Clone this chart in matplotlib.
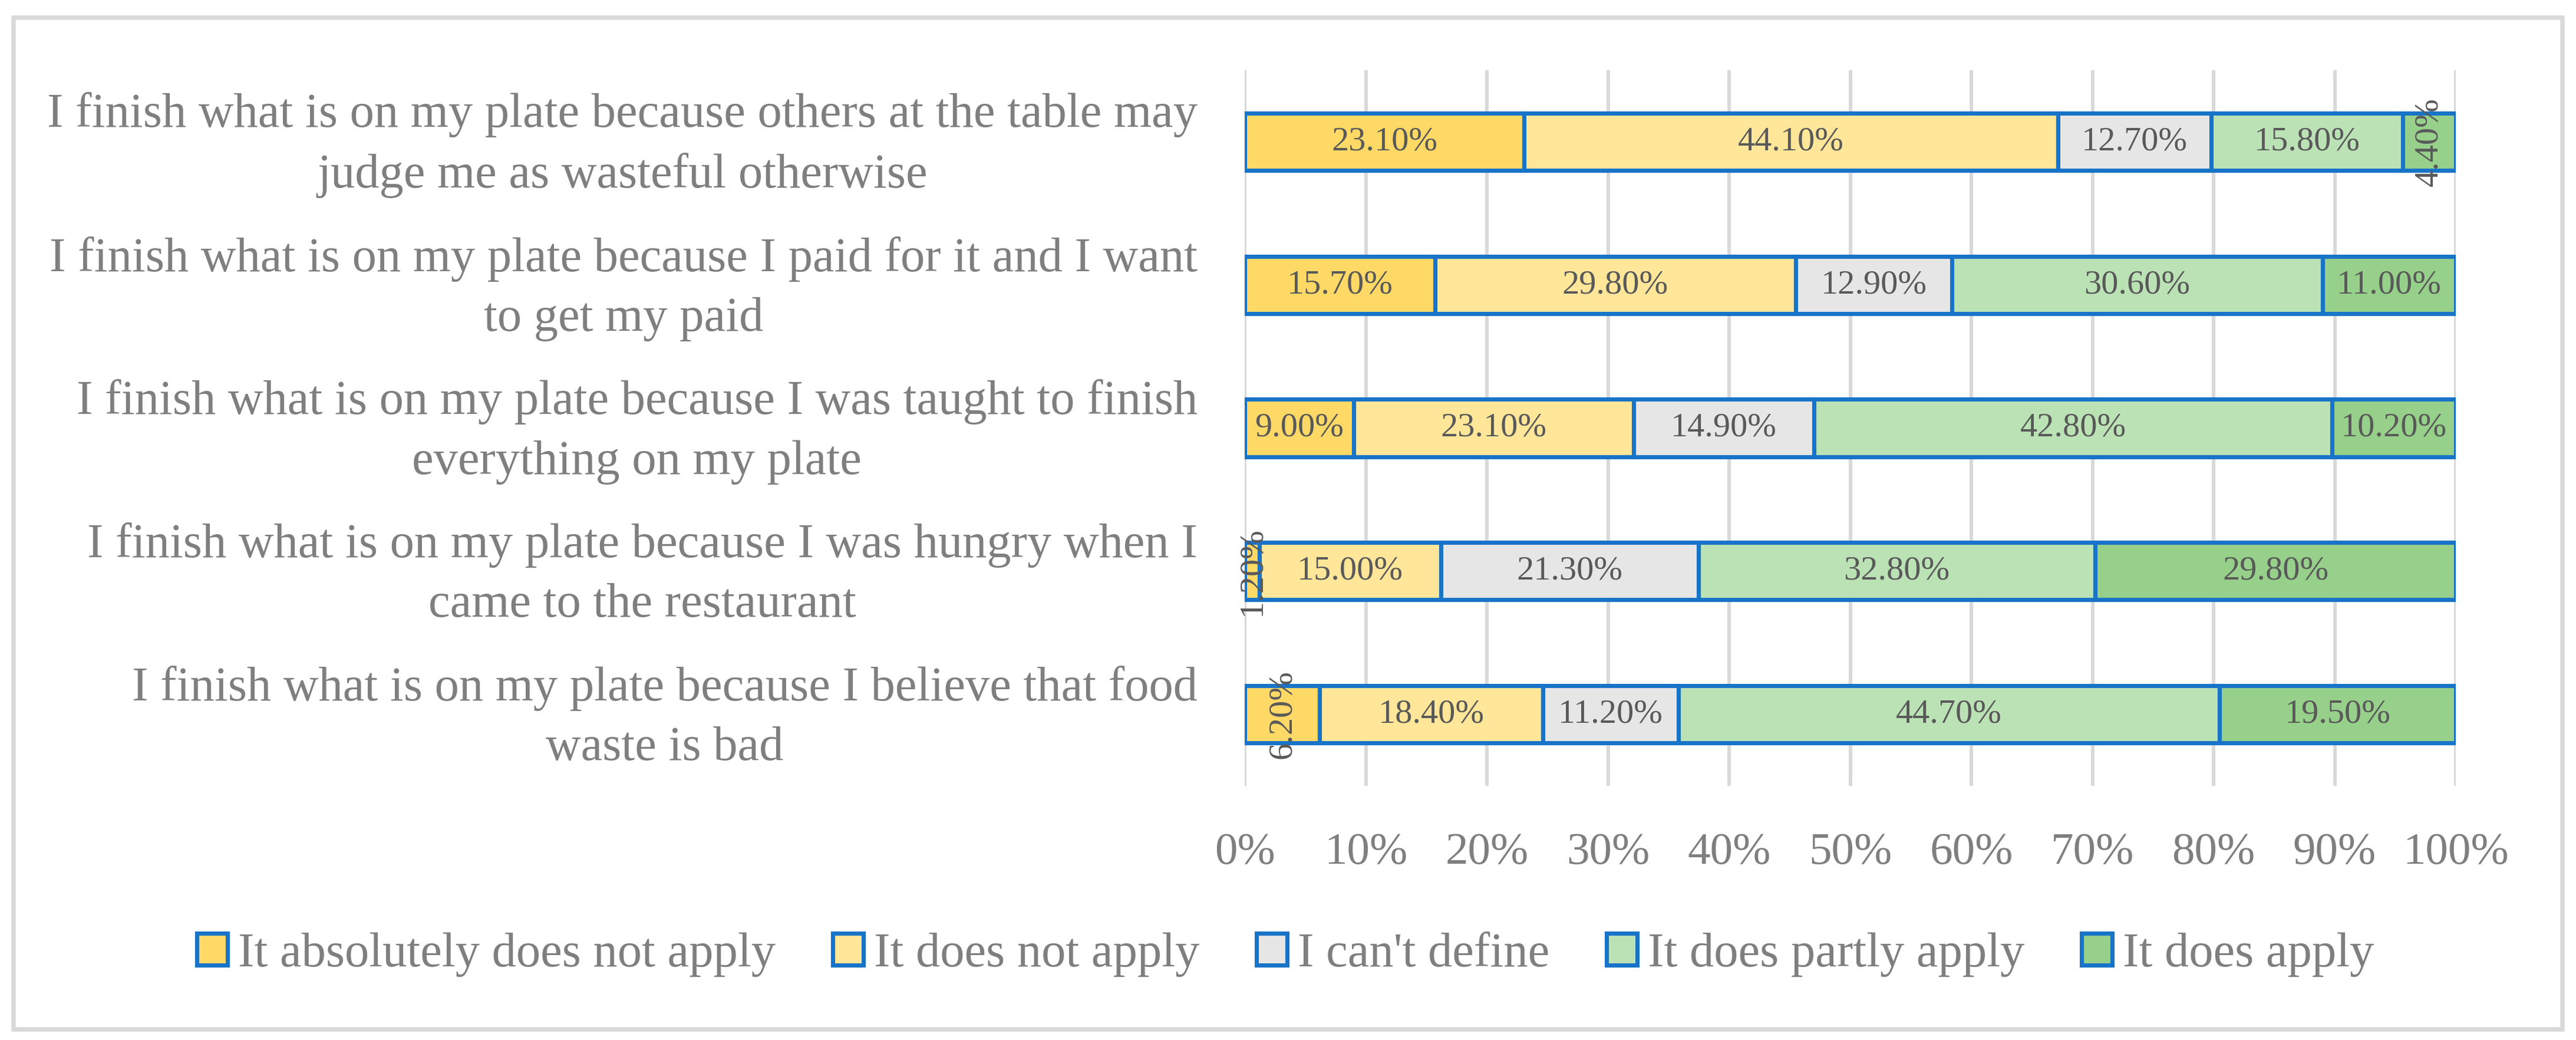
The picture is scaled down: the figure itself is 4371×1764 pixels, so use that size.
import numpy as np
import matplotlib.pyplot as plt
from matplotlib.patches import Rectangle

statements = [
    "I finish what is on my plate because others at the table may\njudge me as wasteful otherwise",
    "I finish what is on my plate because I paid for it and I want\nto get my paid",
    "I finish what is on my plate because I was taught to finish\neverything on my plate",
    "I finish what is on my plate because I was hungry when I\ncame to the restaurant",
    "I finish what is on my plate because I believe that food\nwaste is bad",
]
responses = ["It absolutely does not apply", "It does not apply", "I can't define",
             "It does partly apply", "It does apply"]

absolutely_not = [23.1, 15.7, 9.0, 1.2, 6.2]
does_not = [44.1, 29.8, 23.1, 15.0, 18.4]
cant_define = [12.7, 12.9, 14.9, 21.3, 11.2]
partly = [15.8, 30.6, 42.8, 32.8, 44.7]
does_apply = [4.4, 11.0, 10.2, 29.8, 19.5]

colors = ['#FFD966', '#FFE699', '#E7E6E6', '#BBE2B5', '#96D08A']
edge = '#1874C8'
grey_txt = '#7F7F7F'
val_txt = '#595959'

plt.rcParams['font.family'] = ['Liberation Serif', 'DejaVu Serif']

W, H = 4371, 1764
fig = plt.figure(figsize=(W / 300, H / 300), dpi=300)
ax = fig.add_axes([2112 / W, 1 - 1333 / H, (4167 - 2112) / W, (1333 - 119) / H])

series = np.array([absolutely_not, does_not, cant_define, partly, does_apply])
totals = series.sum(axis=0)
shares = series / totals * 100
y = np.arange(len(statements))

left = np.zeros(len(statements))
for k, name in enumerate(responses):
    ax.barh(y, shares[k], left=left, height=0.4, color=colors[k], edgecolor=edge,
            linewidth=1.7, label=name, zorder=3)
    for i in range(len(statements)):
        v = series[k, i]
        ax.text(left[i] + shares[k, i] / 2, y[i], f'{v:.2f}%', ha='center', va='center',
                fontsize=14, color=val_txt, rotation=90 if v < 7 else 0, zorder=4)
    left += shares[k]

# category labels, wrapped and centred like the Excel original
# (va='baseline' anchors the last line's baseline)
for i, s in enumerate(statements):
    ax.text(-0.039, y[i] + 0.32, s, transform=ax.get_yaxis_transform(), ha='right',
            va='baseline', multialignment='center', linespacing=1.45,
            fontsize=19.8, color=grey_txt)

ax.set_xlim(0, 100)
ax.set_ylim(len(statements) - 0.5, -0.5)
ax.set_xticks(np.arange(0, 101, 10))
ax.set_xticklabels([f'{t}%' for t in range(0, 101, 10)])
ax.set_yticks([])
ax.tick_params(axis='x', length=0, pad=19, labelsize=18.5, labelcolor=grey_txt)
ax.xaxis.grid(True, color='#D9D9D9', linewidth=1.45)
ax.set_axisbelow(True)
for s in ax.spines.values():
    s.set_visible(False)

fig.legend(ncol=5, loc='center', bbox_to_anchor=(0.499, 0.082), frameon=False,
           handlelength=0.63, handleheight=0.63, handletextpad=0.22, columnspacing=1.17,
           fontsize=19.8, labelcolor=grey_txt)

fig.patches.append(Rectangle((23 / W, 1 - 1746 / H), (4348 - 23) / W, (1746 - 30) / H,
                             transform=fig.transFigure, fill=False,
                             edgecolor='#D9D9D9', linewidth=1.8))

fig.savefig('out.png', dpi=300)
